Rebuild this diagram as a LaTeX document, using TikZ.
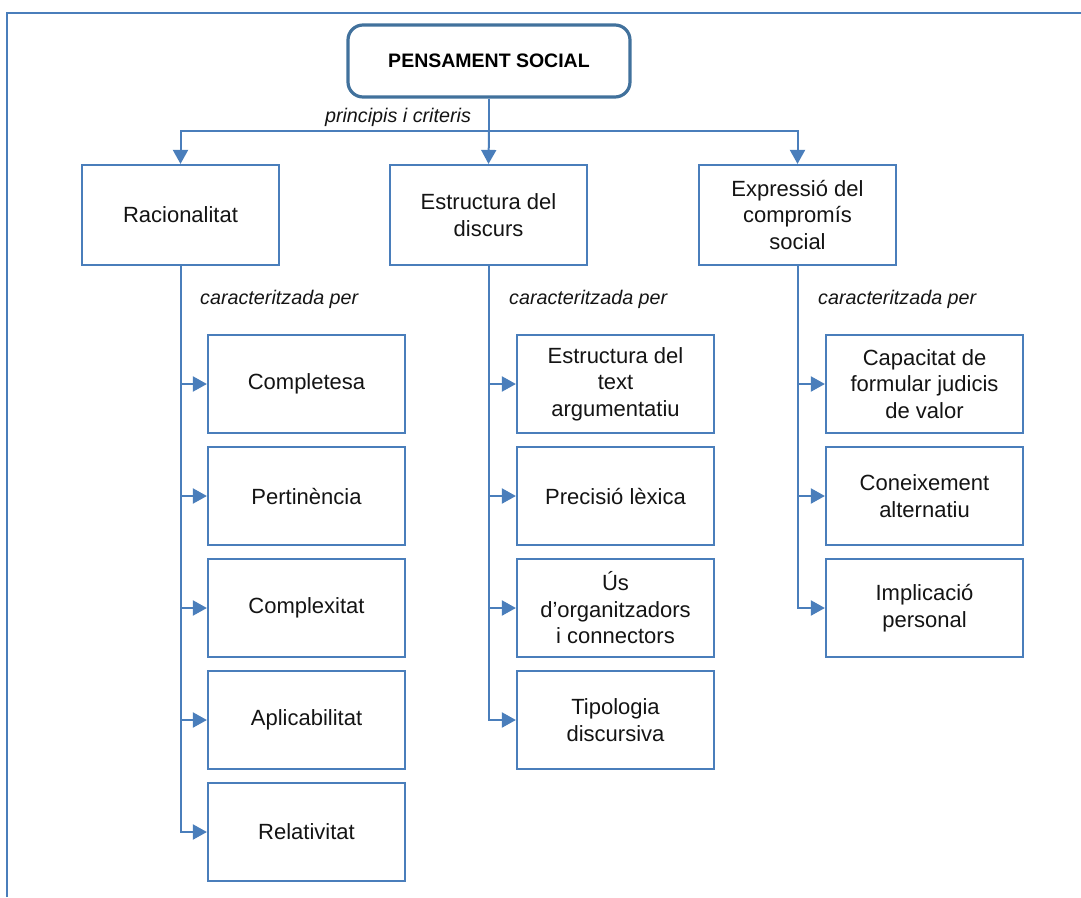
\documentclass[tikz,border=0pt]{standalone}
\usepackage{fontspec}
\setmainfont{Liberation Sans}
\usetikzlibrary{arrows.meta}
\definecolor{lineblue}{HTML}{4A7EBB}
\definecolor{darkblue}{HTML}{41719C}
\definecolor{txt}{HTML}{141414}
\tikzset{
  box/.style={draw=lineblue, line width=2.2pt, fill=white, minimum width=197pt,
    align=center, text=txt, font=\fontsize{22}{26.5}\selectfont, inner sep=2pt},
  topbox/.style={box, minimum height=100pt},
  subbox/.style={box, minimum height=98pt},
  titlebox/.style={draw=darkblue, line width=3.2pt, rounded corners=15pt, fill=white,
    minimum width=282pt, minimum height=72pt, text=black,
    font=\fontsize{19.5}{23}\selectfont\bfseries},
  conn/.style={draw=lineblue, line width=2pt,
    -{Triangle[length=14pt, width=15pt]}},
  tag/.style={font=\fontsize{19.75}{23}\selectfont\itshape, text=txt, inner sep=0pt},
}
\begin{document}
\begin{tikzpicture}[x=1pt, y=-1pt]
\useasboundingbox (0,0) rectangle (1081,897);
% outer frame, open to the right and bottom
\draw[lineblue, line width=2pt] (7,897) -- (7,13) -- (1081,13);

% root
\node[titlebox] (root) at (489,61) {PENSAMENT SOCIAL};
\coordinate (bus) at (489,131);
\node[tag] (crit) at (398,117) {principis i criteris};

% first level
\node[topbox] (rac) at (180.5,215) {Racionalitat};
\node[topbox] (est) at (488.5,215) {Estructura del\\discurs};
\node[topbox] (exp) at (797.5,215) {Expressió del\\compromís\\social};

\draw[lineblue, line width=2pt] (root.south) -- (bus);
\draw[conn] (bus) -| (rac.north);
\draw[conn] (bus) -- (est.north);
\draw[conn] (bus) -| (exp.north);

% labels under the first level
\node[tag, anchor=west] (cr1) at (200,299) {caracteritzada per};
\node[tag, anchor=west] (cr2) at (509,299) {caracteritzada per};
\node[tag, anchor=west] (cr3) at (818,299) {caracteritzada per};

% Racionalitat
\node[subbox] (a1) at (306.5,384) {Completesa};
\node[subbox] (a2) at (306.5,496) {Pertinència};
\node[subbox] (a3) at (306.5,608) {Complexitat};
\node[subbox] (a4) at (306.5,720) {Aplicabilitat};
\node[subbox] (a5) at (306.5,832) {Relativitat};

% Estructura del discurs
\node[subbox] (b1) at (615.5,384) {Estructura del\\text\\argumentatiu};
\node[subbox] (b2) at (615.5,496) {Precisió lèxica};
\node[subbox] (b3) at (615.5,608) {Ús\\d’organitzadors\\i connectors};
\node[subbox] (b4) at (615.5,720) {Tipologia\\discursiva};

% Expressió del compromís social
\node[subbox] (c1) at (924.5,384) {Capacitat de\\formular judicis\\de valor};
\node[subbox] (c2) at (924.5,496) {Coneixement\\alternatiu};
\node[subbox] (c3) at (924.5,608) {Implicació\\personal};

\foreach \n in {a1,a2,a3,a4,a5} \draw[conn] (rac.south) |- (\n.west);
\foreach \n in {b1,b2,b3,b4} \draw[conn] (est.south) |- (\n.west);
\foreach \n in {c1,c2,c3} \draw[conn] (exp.south) |- (\n.west);
\end{tikzpicture}
\end{document}
